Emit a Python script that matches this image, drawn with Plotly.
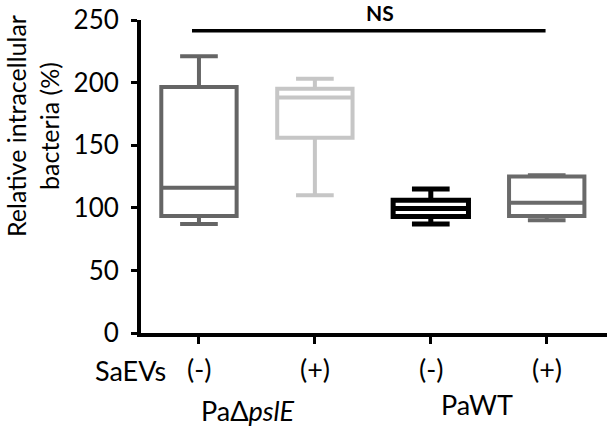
import plotly.graph_objects as go

# ---- data ----
positions = [0, 1, 2, 3]
treatment_labels = ["(-)", "(+)", "(-)", "(+)"]
group_labels = ["PaΔ<i>pslE</i>", "PaWT"]
group_positions = [0.42, 2.4]
box_colors = ["#656565", "#c6c6c6", "#000000", "#6a6a6a"]
lower_fence = [87, 110, 87, 90]
q1_vals = [93.5, 156, 93, 93.5]
median_vals = [116, 188, 99.5, 104]
q3_vals = [196.5, 195, 106, 125]
upper_fence = [221, 203, 115, 126]
line_widths = [4, 4, 5, 4]
y_ticks = [0, 50, 100, 150, 200, 250]

FONT = "Lato, 'Open Sans', sans-serif"
FS = 27

fig = go.Figure()
for i in range(len(positions)):
    fig.add_trace(go.Box(
        x=[positions[i]],
        q1=[q1_vals[i]], median=[median_vals[i]], q3=[q3_vals[i]],
        lowerfence=[lower_fence[i]], upperfence=[upper_fence[i]],
        width=0.65, whiskerwidth=0.5,
        line=dict(color=box_colors[i], width=line_widths[i]),
        fillcolor="rgba(0,0,0,0)",
        boxpoints=False, hoverinfo="skip", showlegend=False,
    ))

fig.update_layout(
    width=609, height=428,
    margin=dict(l=141, r=2, t=20, b=95),
    paper_bgcolor="white", plot_bgcolor="white",
    font=dict(family=FONT, size=FS, color="black"),
    showlegend=False,
    xaxis=dict(range=[-0.5, 3.52], showgrid=False, zeroline=False,
               showline=True, linecolor="black", linewidth=4,
               tickmode="array", tickvals=positions, showticklabels=False,
               ticks="outside", ticklen=7, tickwidth=3, tickcolor="black"),
    yaxis=dict(range=[0, 250], showgrid=False, zeroline=False,
               showline=True, linecolor="black", linewidth=4,
               tickmode="array", tickvals=y_ticks,
               ticks="outside", ticklen=6, tickwidth=3, tickcolor="black",
               ticklabelstandoff=7,
               tickfont=dict(family=FONT, size=26, color="black")),
)

af = dict(family=FONT, size=FS, color="black")
annotations = []
# y axis title (two lines, rotated)
annotations.append(dict(
    text="Relative intracellular<br>bacteria (%)", textangle=-90,
    xref="paper", yref="paper", x=(33 - 141) / 466, y=(333 - 126) / 313,
    xanchor="center", yanchor="middle", showarrow=False,
    font=dict(family=FONT, size=25, color="black")))
# treatment row
annotations.append(dict(
    text="SaEVs", xref="paper", yref="paper", x=(168 - 141) / 466, y=(333 - 370) / 313,
    xanchor="right", yanchor="middle", showarrow=False, font=af))
for p, t in zip(positions, treatment_labels):
    annotations.append(dict(
        text=t, xref="x", yref="paper", x=p, y=(333 - 368) / 313,
        xanchor="center", yanchor="middle", showarrow=False, font=af))
for p, t, yp in zip(group_positions, group_labels, [410, 405]):
    annotations.append(dict(
        text=t, xref="x", yref="paper", x=p, y=(333 - yp) / 313,
        xanchor="center", yanchor="middle", showarrow=False, font=af))
# NS
annotations.append(dict(
    text="<b>NS</b>", xref="paper", yref="paper", x=(380 - 141) / 466, y=(333 - 12.5) / 313,
    xanchor="center", yanchor="middle", showarrow=False,
    font=dict(family=FONT, size=21, color="black")))
fig.update_layout(annotations=annotations)

fig.add_shape(type="line", xref="x", yref="y", x0=-0.06, x1=2.99, y0=241.5, y1=241.5,
              line=dict(color="black", width=3.5))

fig.write_html("out.html")
